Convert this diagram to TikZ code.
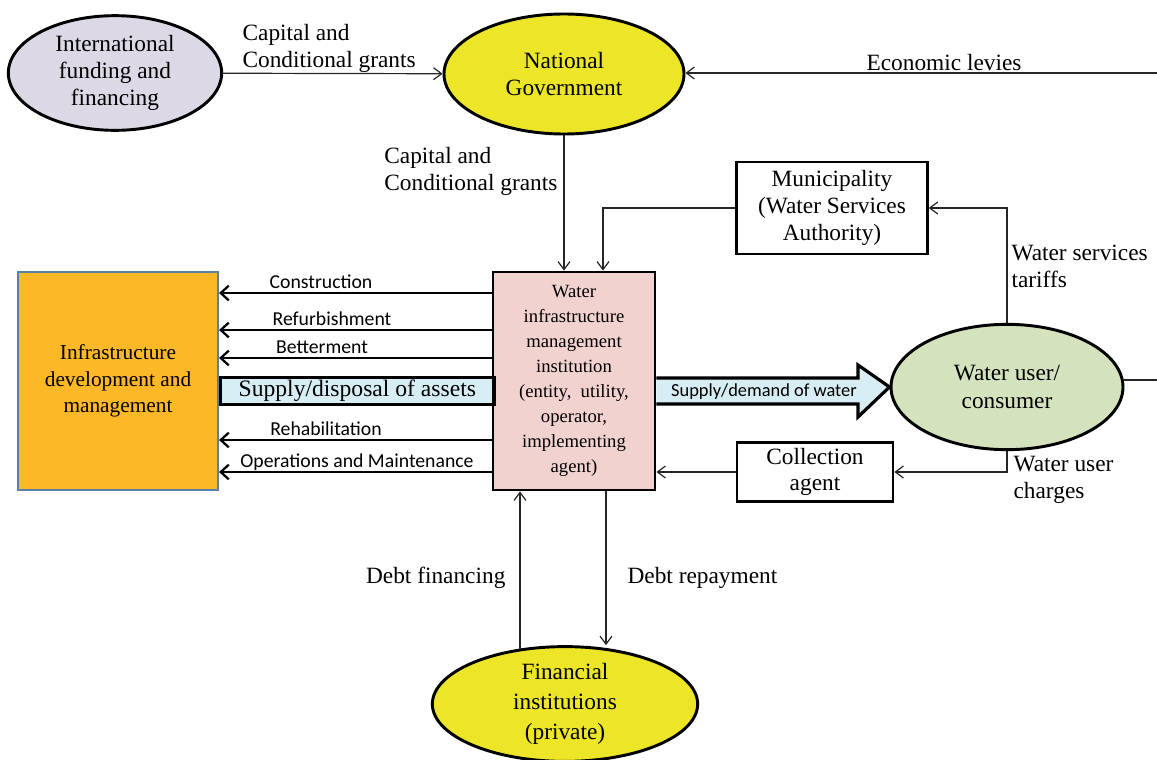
\documentclass[tikz,border=0pt]{standalone}
\usepackage{fontspec}
\setmainfont{Liberation Serif}
\newfontfamily\carl{Carlito}
\usetikzlibrary{shapes.geometric,arrows.meta,calc}
\definecolor{lav}{HTML}{DCD8E6}
\definecolor{yel}{HTML}{EDE628}
\definecolor{grn}{HTML}{D4E2BE}
\definecolor{pnk}{HTML}{F2D2CE}
\definecolor{org}{HTML}{FDB827}
\definecolor{bbord}{HTML}{5A7FA8}
\definecolor{lblue}{HTML}{D6EDF4}
\begin{document}
\begin{tikzpicture}[x=0.75pt,y=-0.75pt,
  ell/.style={ellipse,draw=black,line width=2.2pt,inner sep=0pt,align=center,font=\fontsize{17.5}{20.5}\selectfont},
  box/.style={rectangle,draw=black,line width=2.2pt,inner sep=0pt,align=center,font=\fontsize{17.5}{20}\selectfont},
  thinarr/.style={line width=0.9pt,draw=black!85,-{Straight Barb[length=6pt,width=9pt]}},
  larr/.style={line width=1.9pt,draw=black,-{Straight Barb[length=6pt,width=11pt,line width=1.7pt]}},
  lbl/.style={font=\fontsize{17.5}{20.3}\selectfont,align=left,inner sep=1pt},
  slbl/.style={font=\carl\fontsize{14.8}{16}\selectfont,inner sep=1pt}]
\useasboundingbox (0,0) rectangle (1157,760);

% nodes
\node[ell,fill=lav,minimum width=160pt,minimum height=86pt] (intl) at (115,73) {International\\funding and\\financing};
\node[ell,fill=yel,minimum width=180pt,minimum height=90pt] (gov) at (564,74) {National\\Government};
\node[box,minimum width=143pt,minimum height=69pt] (muni) at (832,208) {Municipality\\(Water Services\\Authority)};
\node[ell,fill=grn,minimum width=174pt,minimum height=94pt] (user) at (1007,387) {Water user/\\consumer};
\node[box,minimum width=117pt,minimum height=44pt] (coll) at (815,472) {Collection\\agent};
\node[box,fill=pnk,minimum width=121.5pt,minimum height=163.5pt,font=\fontsize{14}{18.7}\selectfont] (wimi) at (574,381) {Water\\infrastructure\\management\\institution\\(entity,\ \ utility,\\operator,\\implementing\\agent)};
\node[box,draw=bbord,line width=1.6pt,fill=org,minimum width=150pt,minimum height=163.5pt,font=\fontsize{16}{20}\selectfont] (infra) at (118,381) {Infrastructure\\development and\\management};
\node[ell,fill=yel,minimum width=199pt,minimum height=86pt,font=\fontsize{17.5}{22.5}\selectfont] (fin) at (565,704) {Financial\\institutions\\(private)};

\coordinate (r1) at (1157,73);
\coordinate (r2) at (1157,380);

% top connectors
\draw[thinarr] (intl) -- (gov);
\node[lbl,anchor=south west] at (241,74) {Capital and\\Conditional grants};
\draw[thinarr] (r1) -- (gov.east |- r1);
\node[lbl] at (944,63) {Economic levies};
\draw[thinarr] (gov.south) -- (gov.south |- wimi.north);
\node[lbl,anchor=east,align=left] at (559,171) {Capital and\\Conditional grants};
\draw[thinarr] (muni.west) -| ($(wimi.north)+(29,0)$);
\draw[thinarr] (user.north) |- (muni.east);
\node[lbl,anchor=north west] at (1010,243) {Water services\\tariffs};
\draw[line width=0.9pt,draw=black!85] (user.east |- r2) -- (r2);
\draw[thinarr] (user.south) |- (coll.east);
\node[lbl,anchor=north west] at (1012,455) {Water user\\charges};
\draw[thinarr] (coll.west) -- (wimi.east |- coll.west);

% bottom connectors
\draw[thinarr] ($(fin.north)+(-45,4)$) -- ($(wimi.south)+(-54,0)$);
\node[lbl,anchor=east] at (507,578) {Debt financing};
\draw[thinarr] ($(wimi.south)+(32,0)$) -- ($(fin.north)+(41,0)$);
\node[lbl,anchor=west] at (626,578) {Debt repayment};

% left arrows
\foreach \yy/\tt/\xx in {293/Construction/321,330/Refurbishment/332,358/Betterment/322,440/Rehabilitation/326,472/Operations and Maintenance/357}{
  \draw[larr] (wimi.west |- 0,\yy) -- (infra.east |- 0,\yy);
  \node[slbl,anchor=base] at (\xx,\yy-5) {\tt};
}
\node[draw=black,line width=2.4pt,fill=lblue,inner sep=0pt,anchor=west,minimum height=20pt,minimum width=205pt,font=\fontsize{17.7}{18}\selectfont] (sda) at (infra.east |- 0,391) {Supply/disposal of assets};

% big arrow
\draw[line width=2.4pt,fill=lblue,line join=miter] ($(wimi.east)+(0,-3)$) -- (858,378) -- (858,365) -- (user.west) -- (858,417) -- (858,404) -- ($(wimi.east)+(0,23)$);
\node[slbl,font=\carl\fontsize{13.8}{15}\selectfont,anchor=center] at (764,392) {Supply/demand of water};
\end{tikzpicture}
\end{document}
